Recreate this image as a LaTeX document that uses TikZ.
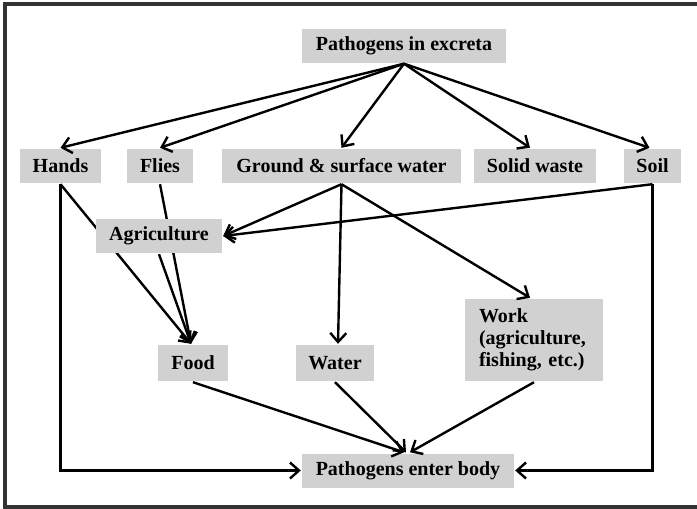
\documentclass[tikz,border=0pt]{standalone}
\usepackage{fontspec}
\setmainfont{Liberation Serif}
\usetikzlibrary{arrows.meta}
\tikzset{->, >={Straight Barb[length=4.5pt,width=8pt]}, font=\bfseries}
\tikzset{box/.style={fill=black!18, inner sep=0pt, minimum height=17pt}}

\begin{document}
\begin{tikzpicture}[x=.5pt,y=-.5pt,line width=1.2pt]
    \useasboundingbox (0,0) rectangle (697,509);
    \draw[-, line width=1.6pt, black!80] (710,4) -- (5,4) -- (5,507) -- (710,507);
    \node[box, minimum width=102pt] (exc) at (404,45.5) {Pathogens in excreta};
    \node[box, minimum width=40.5pt] (hands) at (60.5,166) {Hands};
    \node[box, minimum width=33pt] (flies) at (160,166) {Flies};
    \node[box, minimum width=119.5pt] (gsw) at (341.5,166) {Ground \& surface water};
    \node[box, minimum width=61pt] (solid) at (535,166) {Solid waste};
    \node[box, minimum width=28.5pt] (soil) at (652.5,166) {Soil};
    \node[box, minimum width=35pt, minimum height=18pt] (food) at (193,363) {Food};
    \node[box, minimum width=39pt, minimum height=18pt] (water) at (335,363) {Water};
    \node[box, minimum width=69pt, minimum height=41pt, text width=55pt,
      align=left] (work) at (534,340) {Work\\[-1pt](agriculture,\\[-1pt]fishing, etc.)};
    \node[box, minimum width=106pt] (body) at (408,470.5) {Pathogens enter body};
    % these two run behind the agriculture box
    \path (hands.south) edge ([xshift=-1pt]food.north);
    \path (flies.south) edge ([xshift=-1pt]food.north);
    \node[box, minimum width=63pt] (agri) at (159,236) {Agriculture};
    \path (exc.south) edge (hands.north);
    \path (exc.south) edge (flies.north);
    \path (exc.south) edge (gsw.north);
    \path (exc.south) edge ([xshift=-2.5pt]solid.north);
    \path (exc.south) edge ([xshift=-1.5pt]soil.north);
    \path (agri.south) edge ([xshift=-1pt]food.north);
    \path (gsw.south) edge (agri.east);
    \path (soil.south) edge (agri.east);
    \path (gsw.south) edge ([xshift=1.5pt]water.north);
    \path (gsw.south) edge ([xshift=-2pt]work.north);
    \draw (hands.south) |- (body.west);
    \draw (soil.south) |- (body.east);
    \path (food.south) edge ([xshift=-2pt]body.north);
    \path (water.south) edge ([xshift=-1pt]body.north);
    \path (work.south) edge ([xshift=1pt]body.north);
\end{tikzpicture}
\end{document}
